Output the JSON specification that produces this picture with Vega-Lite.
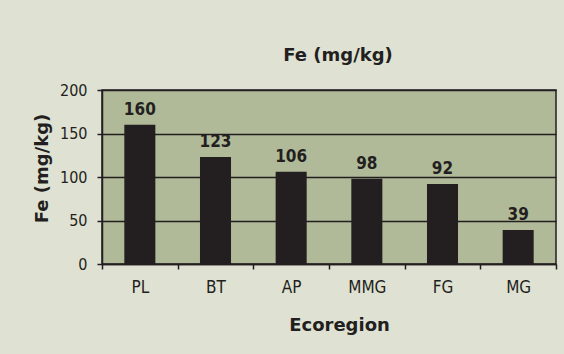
{
  "$schema": "https://vega.github.io/schema/vega-lite/v6.json",
  "width": 454,
  "height": 174,
  "autosize": "none",
  "padding": {"left": 102, "top": 90, "right": 8, "bottom": 90},
  "background": "#dfe2d2",
  "title": {
    "text": "Fe (mg/kg)",
    "font": "DejaVu Sans",
    "fontSize": 18,
    "fontWeight": "bold",
    "color": "#231f20",
    "anchor": "middle",
    "frame": "group",
    "baseline": "alphabetic",
    "offset": 3,
    "dx": 9
  },
  "data": {
    "values": [
      {"Ecoregion": "PL", "Fe": 160},
      {"Ecoregion": "BT", "Fe": 123},
      {"Ecoregion": "AP", "Fe": 106},
      {"Ecoregion": "MMG", "Fe": 98},
      {"Ecoregion": "FG", "Fe": 92},
      {"Ecoregion": "MG", "Fe": 39}
    ]
  },
  "config": {
    "view": {"fill": "#b0ba98", "stroke": "#231f20", "strokeWidth": 1.5}
  },
  "encoding": {
    "x": {
      "field": "Ecoregion",
      "type": "nominal",
      "sort": null,
      "scale": {"paddingInner": 0, "paddingOuter": 0},
      "axis": {
        "title": "Ecoregion",
        "titleFont": "DejaVu Sans",
        "titleFontSize": 18,
        "titleFontWeight": "bold",
        "titleColor": "#231f20",
        "titleBaseline": "alphabetic",
        "titleX": 237,
        "titleY": 66,
        "labelAngle": 0,
        "labelFont": "DejaVu Sans Condensed, Roboto, sans-serif",
        "labelFontSize": 17,
        "labelColor": "#231f20",
        "labelPadding": 10,
        "tickBand": "extent",
        "tickSize": 5,
        "tickColor": "#231f20",
        "tickWidth": 1.5,
        "domainColor": "#231f20",
        "domainWidth": 1.5,
        "grid": false
      }
    },
    "y": {
      "field": "Fe",
      "type": "quantitative",
      "scale": {"domain": [0, 200], "nice": false},
      "axis": {
        "title": "Fe (mg/kg)",
        "titleFont": "DejaVu Sans",
        "titleFontSize": 18,
        "titleFontWeight": "bold",
        "titleColor": "#231f20",
        "titleBaseline": "alphabetic",
        "titleAngle": 270,
        "titleX": -55,
        "titleY": 78,
        "values": [0, 50, 100, 150, 200],
        "labelFont": "DejaVu Sans Condensed, Roboto, sans-serif",
        "labelFontSize": 16,
        "labelColor": "#231f20",
        "labelPadding": 10,
        "tickSize": 5,
        "tickColor": "#231f20",
        "tickWidth": 1.5,
        "domainColor": "#231f20",
        "domainWidth": 1.5,
        "grid": true,
        "gridColor": "#231f20",
        "gridWidth": 1.5,
        "gridOpacity": 1
      }
    }
  },
  "layer": [
    {
      "mark": {"type": "bar", "color": "#231f20", "width": {"band": 0.41}}
    },
    {
      "mark": {
        "type": "text",
        "font": "DejaVu Sans Condensed, Roboto, sans-serif",
        "fontSize": 17,
        "fontWeight": "bold",
        "color": "#231f20",
        "baseline": "alphabetic",
        "dy": -10
      },
      "encoding": {"text": {"field": "Fe", "type": "quantitative"}}
    }
  ]
}
